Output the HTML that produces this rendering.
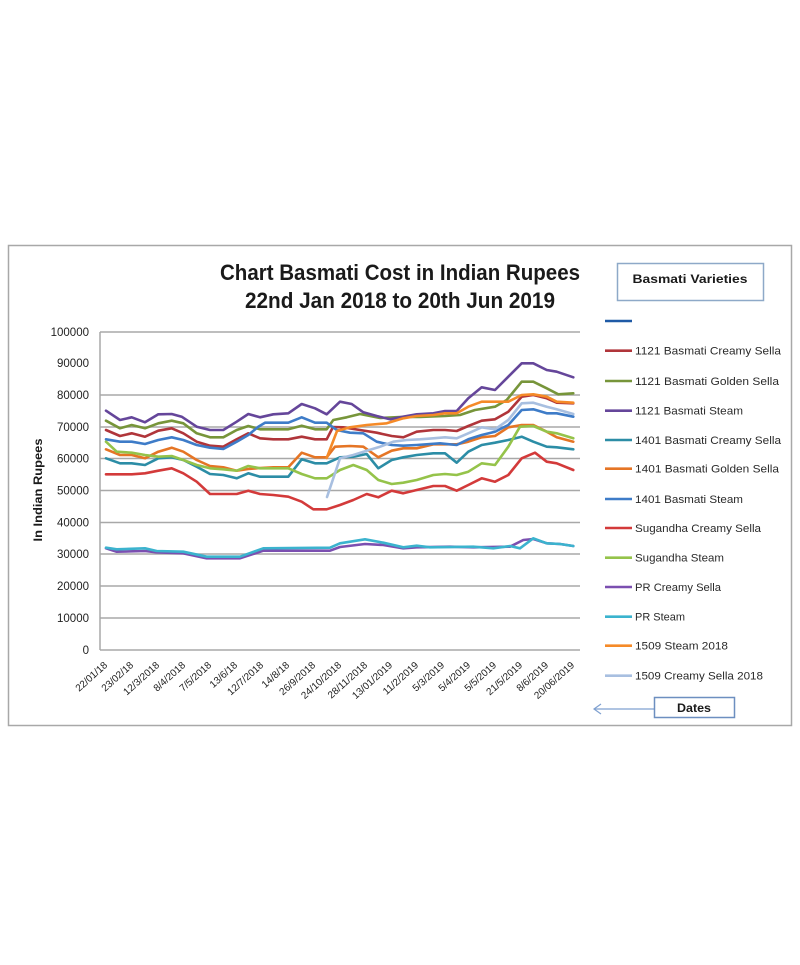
<!DOCTYPE html>
<html>
<head>
<meta charset="utf-8">
<style>
  html,body{margin:0;padding:0;background:#fff;}
  svg{display:block;}
  text{font-family:"Liberation Sans",sans-serif;}
</style>
</head>
<body>
<svg width="800" height="965" viewBox="0 0 800 965" xmlns="http://www.w3.org/2000/svg">
  <rect x="0" y="0" width="800" height="965" fill="#fff"/>
  <!-- outer border -->
  <rect x="8.5" y="245.5" width="783" height="480" fill="#fff" stroke="#a8a8a8" stroke-width="1.5"/>

  <!-- title -->
  <text x="400" y="280" text-anchor="middle" font-size="22" font-weight="bold" fill="#1a1a1a" textLength="360" lengthAdjust="spacingAndGlyphs">Chart Basmati Cost in Indian Rupees</text>
  <text x="400" y="308" text-anchor="middle" font-size="22" font-weight="bold" fill="#1a1a1a" textLength="310" lengthAdjust="spacingAndGlyphs">22nd Jan 2018 to 20th Jun 2019</text>

  <!-- gridlines -->
  <g stroke="#a8a8a8" stroke-width="1.5">
    <line x1="100" y1="332" x2="580" y2="332"/>
    <line x1="100" y1="395" x2="580" y2="395"/>
    <line x1="100" y1="427" x2="580" y2="427"/>
    <line x1="100" y1="458.5" x2="580" y2="458.5"/>
    <line x1="100" y1="490.5" x2="580" y2="490.5"/>
    <line x1="100" y1="522.5" x2="580" y2="522.5"/>
    <line x1="100" y1="554" x2="580" y2="554"/>
    <line x1="100" y1="586" x2="580" y2="586"/>
    <line x1="100" y1="618" x2="580" y2="618"/>
    <line x1="100" y1="650" x2="580" y2="650"/>
    <line x1="100" y1="332" x2="100" y2="650"/>
  </g>

  <!-- y tick labels -->
  <g font-size="11.5" fill="#222" text-anchor="end">
    <text x="89" y="336">100000</text>
    <text x="89" y="367">90000</text>
    <text x="89" y="399">80000</text>
    <text x="89" y="431">70000</text>
    <text x="89" y="462.5">60000</text>
    <text x="89" y="494.5">50000</text>
    <text x="89" y="526.5">40000</text>
    <text x="89" y="558">30000</text>
    <text x="89" y="590">20000</text>
    <text x="89" y="622">10000</text>
    <text x="89" y="654">0</text>
  </g>

  <!-- y axis title -->
  <text transform="translate(42,490) rotate(-90)" text-anchor="middle" font-size="11.5" font-weight="bold" fill="#1a1a1a" textLength="103" lengthAdjust="spacingAndGlyphs">In Indian Rupees</text>

  <!-- x labels -->
  <g font-size="10" fill="#222" text-anchor="end">
    <text transform="translate(108,666) rotate(-42)">22/01/18</text>
    <text transform="translate(134,666) rotate(-42)">23/02/18</text>
    <text transform="translate(160,666) rotate(-42)">12/3/2018</text>
    <text transform="translate(186,666) rotate(-42)">8/4/2018</text>
    <text transform="translate(212,666) rotate(-42)">7/5/2018</text>
    <text transform="translate(238,666) rotate(-42)">13/6/18</text>
    <text transform="translate(264,666) rotate(-42)">12/7/2018</text>
    <text transform="translate(290,666) rotate(-42)">14/8/18</text>
    <text transform="translate(316,666) rotate(-42)">26/9/2018</text>
    <text transform="translate(342,666) rotate(-42)">24/10/2018</text>
    <text transform="translate(368,666) rotate(-42)">28/11/2018</text>
    <text transform="translate(393,666) rotate(-42)">13/01/2019</text>
    <text transform="translate(419,666) rotate(-42)">11/2/2019</text>
    <text transform="translate(445,666) rotate(-42)">5/3/2019</text>
    <text transform="translate(471,666) rotate(-42)">5/4/2019</text>
    <text transform="translate(497,666) rotate(-42)">5/5/2019</text>
    <text transform="translate(523,666) rotate(-42)">21/5/2019</text>
    <text transform="translate(549,666) rotate(-42)">8/6/2019</text>
    <text transform="translate(575,666) rotate(-42)">20/06/2019</text>
  </g>

  <!-- series -->
  <g fill="none" stroke-width="2.6" stroke-linejoin="round" stroke-linecap="round">
    <polyline stroke="#b0353a" points="106,430 120,436 131.7,433.3 145,436.7 158.3,430.7 171.7,428.3 183.3,433.3 196.7,441.7 210,445.7 223.3,446.7 236.7,439.3 248.3,433.3 260,438.3 273.3,439.3 288.3,439.3 301.7,436.7 315,439.3 326.7,439.3 333,427 343.3,427.3 360,430 376.7,432.7 391.7,436 403.3,437.3 416.7,431.7 433.3,430 445,430 456.7,431 468.3,426 481.7,420.7 495,419.3 508.3,411.7 521.7,396.7 533.3,395 546.7,398.3 556.7,402.7 573.3,403.3"/>
    <polyline stroke="#77953a" points="106,420.7 120,428.3 131.7,425 145,428.3 158.3,423.3 171.7,420.7 183.3,423.3 196.7,433.3 210,437.3 223.3,437.3 236.7,430 248.3,426 260,429.3 273.3,429.3 288.3,429.3 301.7,425.7 315,429.3 326.7,429.3 333.3,420 346.7,417.3 360,414 380,418 400,417 420,417 445,416 460,415 475,410 495,406.7 506.7,400 521.7,381.7 533.3,381.7 546.7,388.3 558.3,394.3 573.3,393.3"/>
    <polyline stroke="#65469a" points="106,410.7 120,420 131.7,417.3 145,422.3 158.3,414.3 171.7,414 181.7,416.7 196.7,426.7 210,430 223.3,430 236.7,421.7 248.3,414 260,417.3 273.3,414.3 288.3,413.3 301.7,404 315,408.3 326.7,414.3 340,401.7 351.7,404 363.3,412.3 376.7,416 390,419.3 403.3,416.7 416.7,414.3 433.3,413.3 445,411 456.7,411 468.3,398.3 481.7,387.3 495,390 508.3,376.7 521.7,363.3 533.3,363.3 546.7,370 556.7,371.7 573.3,377.3"/>
    <polyline stroke="#2c8da6" points="106,458.3 120,463.3 131.7,463.3 145,465 158.3,458.3 171.7,457.3 183.3,460 196.7,466.7 210,474 223.3,475 236.7,478.3 248.3,473.3 260,476.7 273.3,476.7 288.3,476.7 301.7,459.3 315,463.3 326.7,463.3 340,457.3 353.3,456.7 366.7,454 378.3,468.3 391.7,460 403.3,457.3 416.7,455 433.3,453.3 445,453.3 456.7,462.7 468.3,451.7 481.7,445 495,442.7 508.3,440 521.7,436.7 533.3,441.7 546.7,446.7 556.7,447.3 573.3,449.3"/>
    <polyline stroke="#e57525" points="106,449.3 120,455 131.7,455 145,458.3 158.3,451.7 171.7,447.7 183.3,451.7 196.7,460 210,466 223.3,467.3 236.7,470.7 248.3,469 260,468 273.3,467.3 288.3,467.3 301.7,452.7 315,457.3 326.7,457.3 335,446.7 350,446 363.3,446.7 378.3,457.3 391.7,450.7 403.3,448.3 416.7,448.3 433.3,444.3 456.7,444.3 468.3,441.7 481.7,437.3 495,436 508.3,427.3 521.7,425 533.3,425 546.7,431.7 556.7,437.3 573.3,441.7"/>
    <polyline stroke="#3e7cc8" points="106,439.3 120,441.7 131.7,441.7 145,444 158.3,440 171.7,437.3 183.3,440 196.7,445 210,447.7 223.3,449 236.7,441.7 248.3,435 258.3,426.7 265,422.7 273.3,422.7 288.3,422.7 301.7,417.3 315,422.7 326.7,422.7 336.7,430 350,432.7 363.3,433.3 376.7,441.7 391.7,445 403.3,445.7 416.7,445 440,443.3 456.7,445 468.3,439.3 481.7,435 495,431.7 508.3,425 521.7,410 533.3,409.3 546.7,413.3 556.7,413.3 573.3,416.7"/>
    <polyline stroke="#d33a3a" points="106,474.3 131.7,474.3 145,473.3 158.3,470.7 171.7,468.3 183.3,473.3 196.7,481.7 210,494 236.7,494 248.3,490.7 260,494 273.3,495 288.3,496.7 301.7,501.7 313.3,509.3 326.7,509.3 340,505 353.3,500 366.7,494 378.3,497.3 391.7,490.7 403.3,493.3 416.7,490 433.3,486 445,486 456.7,490.7 468.3,485 481.7,478.3 495,481.7 508.3,475 521.7,458.3 535,452.7 546.7,461.7 556.7,463.3 573.3,470"/>
    <polyline stroke="#95c34a" points="106,441.7 116.7,451.7 131.7,452.7 145,455 158.3,456.7 171.7,456 183.3,460 196.7,465 210,468.3 223.3,469.3 236.7,470.7 248.3,466 260,468.3 273.3,468.3 288.3,468.3 301.7,474 315,478.3 326.7,478.3 340,470 353.3,465 366.7,470 378.3,480 391.7,484 403.3,482.7 416.7,480 433.3,475 445,474 456.7,475 468.3,471.7 481.7,463.3 495,465 508.3,446.7 520,426.7 533.3,426 546.7,431.7 556.7,433.3 573.3,438.3"/>
    <polyline stroke="#7b4fb0" points="106,548.3 116.7,551.7 145,551 156.7,552.3 183.3,553.3 206.7,558.3 240,558.3 263.3,550.7 330,550.7 340,547 365,544 383.3,545 403.3,548.3 416.7,547.3 450,546.7 473.3,547.3 510,546.7 523.3,540 533.3,539 546.7,543.3 560,544 573.3,546"/>
    <polyline stroke="#3bb3ce" points="106,547.7 116.7,549.3 145,548.3 156.7,551 183.3,551.7 206.7,556.7 240,556.7 263.3,548.3 330,547.7 340,543.3 365,539.3 383.3,542.7 403.3,547.3 416.7,545.7 430,547.3 473.3,546.7 493.3,548.3 510,546 520,548.3 533.3,538.3 546.7,543.3 560,544 573.3,546"/>
    <polyline stroke="#f58a28" points="326.7,458 337,431 350,427.3 366.7,425 386.7,423.3 403.3,418.3 416.7,416 433.3,415 445,413.3 456.7,413.3 468.3,406.7 481.7,401.7 508.3,401.7 521.7,395 533.3,394.3 546.7,396.7 556.7,401.7 573.3,402.7"/>
    <polyline stroke="#a8bfe0" points="327,497 340,458.3 353.3,455 366.7,450.7 380,446.7 393.3,441.7 406.7,440 420,439.3 433.3,438.3 445,437.3 456.7,438.3 468.3,433.3 481.7,427.3 495,429.3 508.3,420 521.7,403.3 533.3,402.7 546.7,406.7 556.7,409.3 573.3,414"/>
  </g>

  <!-- legend title box -->
  <rect x="617.5" y="263.5" width="146" height="37" fill="#fff" stroke="#8ea9c8" stroke-width="1.5"/>
  <text x="690" y="283" text-anchor="middle" font-size="12" font-weight="bold" fill="#1a1a1a" textLength="115" lengthAdjust="spacingAndGlyphs">Basmati Varieties</text>

  <!-- legend entries -->
  <g stroke-width="2.6">
    <line x1="605" y1="321" x2="632" y2="321" stroke="#1f5aa6"/>
    <line x1="605" y1="350.7" x2="632" y2="350.7" stroke="#b0353a"/>
    <line x1="605" y1="381" x2="632" y2="381" stroke="#77953a"/>
    <line x1="605" y1="410.7" x2="632" y2="410.7" stroke="#65469a"/>
    <line x1="605" y1="440" x2="632" y2="440" stroke="#2c8da6"/>
    <line x1="605" y1="468.7" x2="632" y2="468.7" stroke="#e57525"/>
    <line x1="605" y1="499" x2="632" y2="499" stroke="#3e7cc8"/>
    <line x1="605" y1="528" x2="632" y2="528" stroke="#d33a3a"/>
    <line x1="605" y1="557.7" x2="632" y2="557.7" stroke="#95c34a"/>
    <line x1="605" y1="587" x2="632" y2="587" stroke="#7b4fb0"/>
    <line x1="605" y1="616.7" x2="632" y2="616.7" stroke="#3bb3ce"/>
    <line x1="605" y1="645.7" x2="632" y2="645.7" stroke="#f58a28"/>
    <line x1="605" y1="675.7" x2="632" y2="675.7" stroke="#a8bfe0"/>
  </g>
  <g font-size="11" fill="#2a2a2a" lengthAdjust="spacingAndGlyphs">
    <text x="635" y="354.7" textLength="146" lengthAdjust="spacingAndGlyphs">1121 Basmati Creamy Sella</text>
    <text x="635" y="385" textLength="144" lengthAdjust="spacingAndGlyphs">1121 Basmati Golden Sella</text>
    <text x="635" y="414.7" textLength="108" lengthAdjust="spacingAndGlyphs">1121 Basmati Steam</text>
    <text x="635" y="444" textLength="146" lengthAdjust="spacingAndGlyphs">1401 Basmati Creamy Sella</text>
    <text x="635" y="472.7" textLength="144" lengthAdjust="spacingAndGlyphs">1401 Basmati Golden Sella</text>
    <text x="635" y="503" textLength="108" lengthAdjust="spacingAndGlyphs">1401 Basmati Steam</text>
    <text x="635" y="532" textLength="126" lengthAdjust="spacingAndGlyphs">Sugandha Creamy Sella</text>
    <text x="635" y="561.7" textLength="89" lengthAdjust="spacingAndGlyphs">Sugandha Steam</text>
    <text x="635" y="591" textLength="86" lengthAdjust="spacingAndGlyphs">PR Creamy Sella</text>
    <text x="635" y="620.7" textLength="50" lengthAdjust="spacingAndGlyphs">PR Steam</text>
    <text x="635" y="649.7" textLength="93" lengthAdjust="spacingAndGlyphs">1509 Steam 2018</text>
    <text x="635" y="679.7" textLength="128" lengthAdjust="spacingAndGlyphs">1509 Creamy Sella 2018</text>
  </g>

  <!-- Dates box and arrow -->
  <line x1="595" y1="709" x2="654" y2="709" stroke="#7fa0d0" stroke-width="1.2"/>
  <polyline points="601,704 594,709 601,714" fill="none" stroke="#7fa0d0" stroke-width="1.2"/>
  <rect x="654.5" y="697.5" width="80" height="20" fill="#fff" stroke="#6d8fc0" stroke-width="1.5"/>
  <text x="694" y="712" text-anchor="middle" font-size="12" font-weight="bold" fill="#1a1a1a" textLength="34" lengthAdjust="spacingAndGlyphs">Dates</text>
</svg>
</body>
</html>
